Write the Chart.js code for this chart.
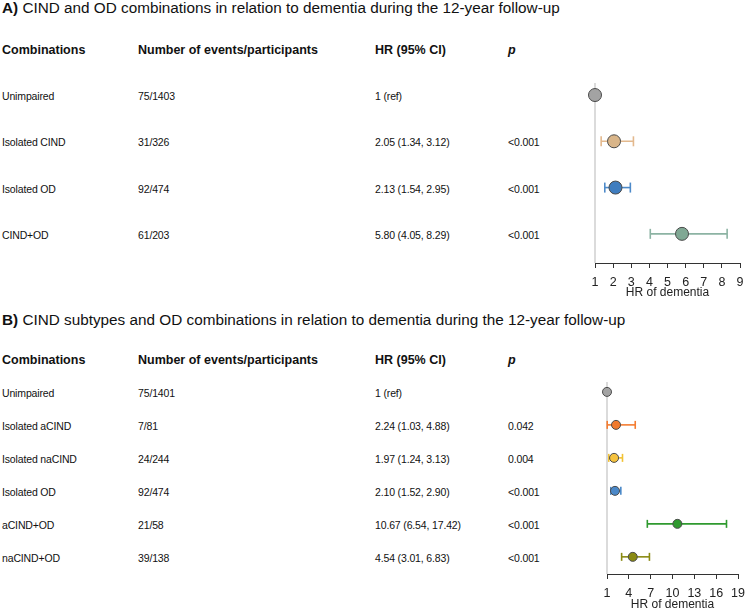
<!DOCTYPE html>
<html><head><meta charset="utf-8">
<script src="https://cdn.jsdelivr.net/npm/chart.js@4.4.0/dist/chart.umd.min.js"></script>
<style>
body{margin:0;width:747px;height:615px;background:#fff;font-family:"Liberation Sans",Arial,sans-serif;color:#111;position:relative;overflow:hidden}
.t{position:absolute;white-space:nowrap;font-size:10.5px;line-height:14px;letter-spacing:-0.15px}
.h{font-weight:bold;font-size:12.5px;letter-spacing:0}
.ttl{font-size:15.3px;line-height:18px;letter-spacing:0}
canvas{position:absolute}
</style></head><body>
<script>
// ---- Panel A data ----
const labelsA = ['Unimpaired','Isolated CIND','Isolated OD','CIND+OD'];
const eventsA = ['75/1403','31/326','92/474','61/203'];
const hrA = [1, 2.05, 2.13, 5.80];
const loA = [null, 1.34, 1.54, 4.05];
const hiA = [null, 3.12, 2.95, 8.29];
const pA = ['', '<0.001', '<0.001', '<0.001'];
const ticksA = [1,2,3,4,5,6,7,8,9];
const colorsA = ['#a3a3a3','#d9b589','#3f7dbf','#80a894'];
const lineColorsA = ['#a3a3a3','#e3b98e','#4d8ac9','#8cb3a3'];

// ---- Panel B data ----
const labelsB = ['Unimpaired','Isolated aCIND','Isolated naCIND','Isolated OD','aCIND+OD','naCIND+OD'];
const eventsB = ['75/1401','7/81','24/244','92/474','21/58','39/138'];
const hrB = [1, 2.24, 1.97, 2.10, 10.67, 4.54];
const loB = [null, 1.03, 1.24, 1.52, 6.54, 3.01];
const hiB = [null, 4.88, 3.13, 2.90, 17.42, 6.83];
const pB = ['', '0.042', '0.004', '<0.001', '<0.001', '<0.001'];
const ticksB = [1,4,7,10,13,16,19];
const colorsB = ['#a3a3a3','#f07a2e','#f5c23e','#4a88c8','#2f9a2f','#8a8a12'];
const lineColorsB = ['#a3a3a3','#f47c30','#f2c234','#4a88c8','#2f9a2f','#8a8a12'];

const titleA = 'CIND and OD combinations in relation to dementia during the 12-year follow-up';
const titleB = 'CIND subtypes and OD combinations in relation to dementia during the 12-year follow-up';

function txt(cls, s, x, y){
  const d = document.createElement('div');
  d.className = 't ' + cls;
  d.textContent = s;
  d.style.left = x + 'px';
  d.style.top = y + 'px';
  document.body.appendChild(d);
  return d;
}
function hrText(h, l, u){
  if (l === null) return '1 (ref)';
  return h.toFixed(2) + ' (' + l.toFixed(2) + ', ' + u.toFixed(2) + ')';
}

function panel(o){
  const tt = txt('ttl', '', 2, o.titleY - 8.8);
  const b = document.createElement('b'); b.textContent = o.letter + ') ';
  tt.appendChild(b); tt.appendChild(document.createTextNode(o.title));
  txt('h', 'Combinations', 2, o.headY - 6.8);
  txt('h', 'Number of events/participants', 138, o.headY - 6.8);
  txt('h', 'HR (95% CI)', 375, o.headY - 6.8);
  const p = txt('h', 'p', 508, o.headY - 6.8); p.style.fontStyle = 'italic';

  const cv = document.createElement('canvas');
  cv.width = o.w; cv.height = o.h;
  cv.style.left = o.left + 'px'; cv.style.top = o.top + 'px';
  cv.style.width = o.w + 'px'; cv.style.height = o.h + 'px';
  document.body.appendChild(cv);

  const n = o.labels.length;
  const ds = [];
  ds.push({
    data: o.hr.map((v,i)=>({x:v,y:i})),
    pointRadius: o.r, pointBackgroundColor: o.colors, pointBorderColor: '#4a4a4a',
    pointBorderWidth: 1, showLine:false, clip:false
  });
  for (let i=0;i<n;i++){
    if (o.lo[i]===null) continue;
    ds.push({
      data:[{x:o.lo[i],y:i},{x:o.hi[i],y:i}],
      showLine:true, borderColor:o.lineColors[i], borderWidth:1.6,
      pointStyle:'line', rotation:90, pointRadius:o.cap, pointBorderColor:o.lineColors[i],
      pointBorderWidth:1.6, clip:false
    });
  }
  ds.push({
    data:[{x:1,y:o.yMin},{x:1,y:o.yMax}],
    showLine:true, borderColor:'#cfcfcf', borderWidth:1.5, pointRadius:0, clip:false
  });

  const chart = new Chart(cv, {
    type:'scatter',
    data:{datasets:ds},
    options:{
      responsive:false, animation:false, devicePixelRatio:1,
      layout:{autoPadding:false, padding:{left:o.padL, right:o.padR, top:0, bottom:0}},
      plugins:{legend:{display:false}, tooltip:{enabled:false}},
      scales:{
        x:{type:'linear', min:o.ticks[0], max:o.ticks[o.ticks.length-1],
           afterBuildTicks: s => { s.ticks = o.ticks.map(v=>({value:v})); },
           afterFit: s => { s.height = o.axisH; s.paddingLeft = 0; s.paddingRight = 0; },
           grid:{drawOnChartArea:false, drawTicks:true, tickLength:5, color:'#333', tickWidth:1},
           border:{display:true, color:'#333', width:1},
           ticks:{color:'#222', font:{family:'Liberation Sans', size:12.5, lineHeight:1}, padding:8, maxRotation:0, autoSkip:false},
           title:{display:true, text:'HR of dementia', color:'#222', font:{family:'Liberation Sans', size:12, lineHeight:1}, padding:{top:0,bottom:0}}},
        y:{type:'linear', display:false, reverse:true, min:o.yMin, max:o.yMax}
      }
    }
  });
  const ys = chart.scales.y;
  for (let i=0;i<n;i++){
    const py = o.top + ys.getPixelForValue(i) - 6;
    txt('', o.labels[i], 2, py);
    txt('', o.events[i], 138, py);
    txt('', hrText(o.hr[i], o.lo[i], o.hi[i]), 375, py);
    if (o.p[i]) txt('', o.p[i], 508, py);
  }
}

panel({letter:'A', title:titleA, titleY:7.5, headY:50,
  labels:labelsA, events:eventsA, hr:hrA, lo:loA, hi:hiA, p:pA, ticks:ticksA,
  colors:colorsA, lineColors:lineColorsA,
  left:580, top:83, w:167, h:216, padL:15, padR:7, axisH:36, yMin:-0.26, yMax:3.63, r:6.5, cap:5});

panel({letter:'B', title:titleB, titleY:320, headY:360,
  labels:labelsB, events:eventsB, hr:hrB, lo:loB, hi:hiB, p:pB, ticks:ticksB,
  colors:colorsB, lineColors:lineColorsB,
  left:590, top:382, w:157, h:229, padL:17, padR:9, axisH:37, yMin:-0.3, yMax:5.52, r:4.5, cap:4});
</script>
</body></html>
